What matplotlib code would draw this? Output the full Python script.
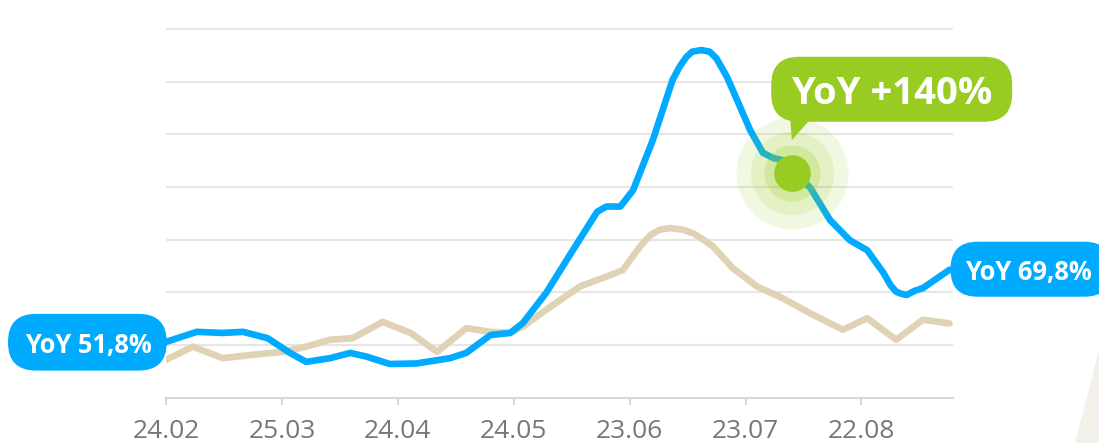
import matplotlib
matplotlib.use("Agg")
import matplotlib.pyplot as plt
from matplotlib.patches import FancyBboxPatch, Polygon
from matplotlib.transforms import IdentityTransform

plt.rcParams["font.family"] = ["Open Sans", "DejaVu Sans"]

# --- data (x in months from 24.02, y in index units; one grid step = 10) ---
TICK_LABELS = ["24.02", "25.03", "24.04", "24.05", "23.06", "23.07", "22.08"]

BLUE_X = [0.0, 0.265, 0.49, 0.665, 0.877, 1.07, 1.21, 1.415, 1.59, 1.73, 1.93,
          2.16, 2.45, 2.59, 2.80, 2.97, 3.08, 3.28, 3.51, 3.72, 3.80, 3.92,
          4.03, 4.20, 4.37, 4.43, 4.49, 4.54, 4.62, 4.69, 4.75, 4.84, 4.89,
          5.04, 5.15, 5.24, 5.32, 5.40, 5.56, 5.73, 5.90, 6.05, 6.19, 6.25,
          6.30, 6.35, 6.39, 6.46, 6.53, 6.76]
BLUE_Y = [10.6, 12.5, 12.3, 12.5, 11.3, 8.5, 6.8, 7.5, 8.5, 7.8, 6.4,
          6.5, 7.5, 8.5, 11.9, 12.3, 14.2, 19.9, 28.0, 35.3, 36.3, 36.3,
          39.4, 48.9, 60.3, 62.8, 64.7, 65.7, 66.0, 65.7, 64.4, 60.9, 58.4,
          50.8, 46.5, 45.5, 45.1, 43.5, 39.8, 33.7, 29.9, 28.0, 23.7, 21.4,
          20.1, 19.7, 19.5, 20.3, 20.8, 24.3]

BEIGE_X = [0.0, 0.233, 0.49, 0.725, 1.01, 1.21, 1.415, 1.61, 1.87, 2.11,
           2.34, 2.59, 2.80, 2.97, 3.08, 3.28, 3.57, 3.80, 3.94, 4.09, 4.18,
           4.26, 4.35, 4.46, 4.55, 4.63, 4.72, 4.89, 5.10, 5.32, 5.56, 5.84,
           6.05, 6.30, 6.53, 6.76]
BEIGE_Y = [7.2, 9.7, 7.5, 8.1, 8.7, 9.7, 11.0, 11.3, 14.4, 12.3,
           8.7, 13.2, 12.5, 12.3, 13.5, 16.7, 21.1, 23.0, 24.2, 28.7, 30.9,
           31.9, 32.2, 31.9, 31.2, 30.1, 28.7, 24.6, 21.1, 18.9, 16.0, 12.9,
           15.1, 11.0, 14.8, 14.1]

HIGHLIGHT_X = 5.40
HIGHLIGHT_Y = 42.6

LABEL_START = "YoY 51,8%"
LABEL_PEAK = "YoY +140%"
LABEL_END = "YoY 69,8%"

BLUE = "#00aaff"
BEIGE = "#e0d3b5"
GREEN = "#99cc22"
GRID = "#e6e6e6"
AXIS = "#d6d6d6"
TICK_TEXT = "#777777"

W, H, DPI = 1099, 443, 100


def _pill(ax, anchor, left, bottom, width, height, color, radius):
    """Rounded label box in pixels, placed relative to a data anchor (display coords)."""
    patch = FancyBboxPatch(
        (anchor[0] + left, anchor[1] + bottom), width, height,
        boxstyle=f"round,pad=0,rounding_size={radius}",
        transform=IdentityTransform(), facecolor=color, edgecolor="none",
        zorder=6, clip_on=False,
    )
    ax.add_artist(patch)


def _label(ax, text, xy, offset, size):
    ax.annotate(text, xy=xy, xytext=offset, textcoords="offset pixels",
                ha="center", va="baseline", color="white", fontsize=size,
                fontweight="bold", zorder=7, annotation_clip=False)


def main() -> None:
    fig = plt.figure(figsize=(W / DPI, H / DPI), dpi=DPI, facecolor="white")
    ax = fig.add_axes([166 / W, 45.3 / H, 787 / W, 395 / H])
    ax.set_xlim(0, 6.79)
    ax.set_ylim(0, 75)

    ax.set_yticks(range(10, 80, 10))
    ax.yaxis.grid(True, color=GRID, linewidth=1.5)
    ax.set_axisbelow(True)
    ax.tick_params(axis="y", length=0, labelleft=False)

    ax.set_xticks(range(len(TICK_LABELS)))
    ax.set_xticklabels(TICK_LABELS)
    ax.tick_params(axis="x", length=4.8, width=1.4, color=AXIS, pad=10.4,
                   labelsize=19, labelcolor=TICK_TEXT)

    for side in ("left", "right", "top"):
        ax.spines[side].set_visible(False)
    ax.spines["bottom"].set_color(AXIS)
    ax.spines["bottom"].set_linewidth(1.5)

    ax.plot(BEIGE_X, BEIGE_Y, color=BEIGE, linewidth=4.8,
            solid_capstyle="round", solid_joinstyle="round", zorder=3)
    ax.plot(BLUE_X, BLUE_Y, color=BLUE, linewidth=4.8,
            solid_capstyle="round", solid_joinstyle="round", zorder=4)

    # highlight halo around the marked point
    for ms, alpha in ((80.6, 0.13), (60.0, 0.15), (40.3, 0.24)):
        ax.plot([HIGHLIGHT_X], [HIGHLIGHT_Y], "o", ms=ms, color=GREEN,
                alpha=alpha, markeredgewidth=0, zorder=5)
    ax.plot([HIGHLIGHT_X], [HIGHLIGHT_Y], "o", ms=26.4, color=GREEN,
            markeredgewidth=0, zorder=5)

    fig.canvas.draw()
    to_px = ax.transData.transform

    # start label
    a_start = to_px((BLUE_X[0], BLUE_Y[0]))
    _pill(ax, a_start, -158, -28.7, 158.7, 56.7, BLUE, 28)
    _label(ax, LABEL_START, (BLUE_X[0], BLUE_Y[0]), (-78, -11), 18.4)

    # end label
    a_end = to_px((BLUE_X[-1], BLUE_Y[-1]))
    _pill(ax, a_end, 1, -27, 161, 55, BLUE, 27)
    _label(ax, LABEL_END, (BLUE_X[-1], BLUE_Y[-1]), (79, -10), 18.4)

    # peak callout
    a_hi = to_px((HIGHLIGHT_X, HIGHLIGHT_Y))
    _pill(ax, a_hi, -20.7, 51.6, 241, 65, GREEN, 28)
    tip = Polygon(
        [(a_hi[0] - 1.7, a_hi[1] + 55), (a_hi[0] + 19.3, a_hi[1] + 55),
         (a_hi[0], a_hi[1] + 33.3)],
        closed=True, transform=IdentityTransform(), facecolor=GREEN,
        edgecolor="none", zorder=6, clip_on=False,
    )
    ax.add_artist(tip)
    _label(ax, LABEL_PEAK, (HIGHLIGHT_X, HIGHLIGHT_Y), (99.3, 69.3), 27.5)

    # cream decoration at bottom right
    fig.add_artist(Polygon([(1075, 0), (1099, 93), (1099, 0)], closed=True,
                           transform=IdentityTransform(), facecolor="#f4f1ea",
                           edgecolor="none", zorder=0))

    fig.savefig("out.png", dpi=DPI, facecolor="white")
    plt.close(fig)


if __name__ == "__main__":
    main()
